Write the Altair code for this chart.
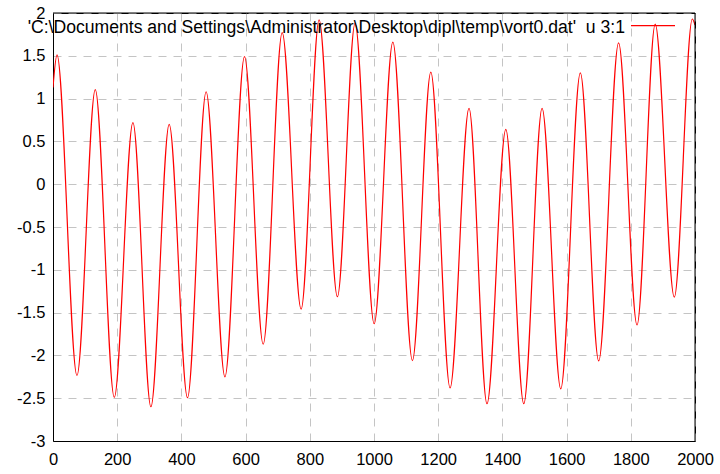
import altair as alt
import pandas as pd

# Extrema of the series (x = column 3, y = column 1)
x_vals = [0, 12.5, 74.7, 131.7, 190.9, 249, 305, 362, 419, 477, 535.6, 596.6,
          654.8, 714, 773, 829, 886, 941, 1000.5, 1058.7, 1119.7, 1177, 1237,
          1296, 1352, 1410.6, 1466.6, 1523.6, 1581.8, 1642.8, 1700, 1762,
          1819.4, 1876, 1935.5, 1991.6, 2000]
y_vals = [1.13, 1.51, -2.235, 1.106, -2.49, 0.72, -2.60, 0.70, -2.495, 1.08,
          -2.25, 1.49, -1.87, 1.77, -1.46, 1.92, -1.315, 1.88, -1.63, 1.66,
          -2.06, 1.31, -2.38, 0.885, -2.565, 0.64, -2.565, 0.885, -2.39, 1.30,
          -2.065, 1.65, -1.645, 1.87, -1.32, 1.93, 1.86]

x_ticks = [0, 200, 400, 600, 800, 1000, 1200, 1400, 1600, 1800, 2000]
y_ticks = [-3, -2.5, -2, -1.5, -1, -0.5, 0, 0.5, 1, 1.5, 2]

legend_label = "'C:\\Documents and Settings\\Administrator\\Desktop\\dipl\\temp\\vort0.dat'\u00a0 u 3:1"

df = pd.DataFrame({"x": x_vals, "y": y_vals})

W, H = 642, 428

axis_common = dict(title=None, grid=True, ticks=False, labelFontSize=16.5,
                   labelFont="Liberation Sans", labelColor="black",
                   domainColor="black", gridColor="#c4c4c4",
                   gridDash=[8, 7], labelFlush=False,
                   labelExpr="toString(datum.value)")

line = alt.Chart(df).mark_line(
    color="#ff0000", strokeWidth=1.2, interpolate="monotone", clip=True
).encode(
    x=alt.X("x:Q", scale=alt.Scale(domain=[0, 2000], nice=False),
            axis=alt.Axis(values=x_ticks, labelPadding=10, **axis_common)),
    y=alt.Y("y:Q", scale=alt.Scale(domain=[-3, 2], nice=False),
            axis=alt.Axis(values=y_ticks, labelPadding=8, **axis_common)),
)

one = pd.DataFrame({"t": [legend_label]})

legend_text = alt.Chart(one).mark_text(
    align="right", baseline="alphabetic", fontSize=17.6,
    font="Liberation Sans", color="black"
).encode(text="t:N", x=alt.value(572), y=alt.value(19.8))

legend_line = alt.Chart(one).mark_rule(
    color="#ff0000", strokeWidth=1.2
).encode(x=alt.value(578), x2=alt.value(622), y=alt.value(12.6))

frame_top = alt.Chart(one).mark_rule(color="black", strokeWidth=1).encode(
    x=alt.value(0), x2=alt.value(W), y=alt.value(0))
frame_right = alt.Chart(one).mark_rule(color="black", strokeWidth=1).encode(
    x=alt.value(W), y=alt.value(0), y2=alt.value(H))

chart = alt.layer(line, legend_text, legend_line, frame_top, frame_right).properties(
    width=W, height=H,
    autosize=alt.AutoSizeParams(type="none"),
    padding={"left": 53, "top": 13, "right": 25, "bottom": 33},
    background="white",
).configure_view(stroke="black", strokeWidth=1)

chart.save("out.html", embed_options={"renderer": "svg", "actions": False})
